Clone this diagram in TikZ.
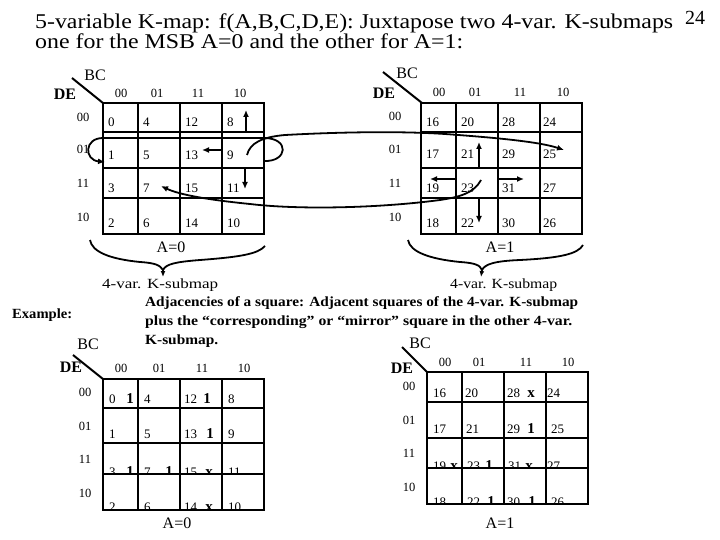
\documentclass[tikz,border=0pt]{standalone}
\usepackage{fontspec}
\usepackage{graphicx}
\setmainfont{Liberation Serif}
\usetikzlibrary{arrows.meta}
\newcommand{\fitto}[2]{\resizebox{#1}{\height}{#2}}
\begin{document}
\begin{tikzpicture}[x=1pt,y=-1pt,
  gridln/.style={line width=2.4pt},
  diag/.style={line width=2pt},
  cellnum/.style={anchor=base west,inner sep=0pt,font=\fontsize{13}{13}\selectfont},
  colhd/.style={inner sep=0pt,font=\fontsize{12.5}{12.5}\selectfont},
  rowhd/.style={inner sep=0pt,font=\fontsize{12.5}{12.5}\selectfont},
  bclab/.style={inner sep=0pt,font=\fontsize{16}{16}\selectfont},
  delab/.style={inner sep=0pt,font=\fontsize{16}{16}\selectfont\bfseries},
  bmk/.style={anchor=base,inner sep=0pt,font=\fontsize{15}{15}\selectfont\bfseries},
  alab/.style={inner sep=0pt,font=\fontsize{16}{16}\selectfont},
  arr/.style={line width=1.8pt,-{Latex[length=7pt,width=6pt]}},
  brace/.style={line width=1.8pt},
  txt/.style={anchor=base west,inner sep=0pt},
]
\useasboundingbox[fill=white] (0,0) rectangle (720,540);

% ---------- title ----------
\node[txt] (title1) at (35,29) {\fitto{638pt}{\fontsize{21}{21}\selectfont 5-variable K-map: f(A,B,C,D,E): Juxtapose two 4-var. K-submaps}};
\node[txt] (title2) at (35,49) {\fitto{428pt}{\fontsize{21}{21}\selectfont one for the MSB A=0 and the other for A=1:}};
\node[txt] (pg) at (685,25) {\fontsize{20}{20}\selectfont 24};

% ---------- top-left map (A=0) ----------
\node[bclab] (tlBC) at (95,75) {BC};
\node[delab] (tlDE) at (65,94) {DE};
\coordinate (tlD1) at (72,78); \coordinate (tlD2) at (103,103);
\draw[diag] (tlD1) -- (tlD2);
\foreach \t/\x in {00/121,01/157,11/198,10/240} \node[colhd] (tlc\t) at (\x,93) {\t};
\foreach \t/\y in {00/117,01/149,11/183,10/217} \node[rowhd] (tlr\t) at (83,\y) {\t};
\foreach \n/\x/\y in {0/108/127,4/143/127,12/185/127,8/227/127,
  1/108/160,5/143/160,13/185/160,9/227/160,
  3/108/193,7/143/193,15/185/193,11/227/193,
  2/108/228,6/143/228,14/185/228,10/227/228}
  \node[cellnum] (t\n) at (\x,\y) {\n};
\draw[gridln] (103,103) rectangle (264,234);
\foreach \x in {138,180,222} \draw[gridln] (\x,103) -- (\x,234);
\foreach \y in {132,168,198} \draw[gridln] (103,\y) -- (264,\y);

% ---------- top-right map (A=1) ----------
\node[bclab] (trBC) at (407,73) {BC};
\node[delab] (trDE) at (384,93) {DE};
\coordinate (trD1) at (383,72); \coordinate (trD2) at (422,103);
\draw[diag] (trD1) -- (trD2);
\foreach \t/\x in {00/439,01/475,11/520,10/563} \node[colhd] (trc\t) at (\x,92) {\t};
\foreach \t/\y in {00/116,01/149,11/183,10/217} \node[rowhd] (trr\t) at (395,\y) {\t};
\foreach \n/\x/\y in {16/426/127,20/461/127,28/502/127,24/543/127,
  17/426/159,21/461/159,29/502/159,25/543/159,
  19/426/193,23/461/193,31/502/193,27/543/193,
  18/426/227,22/461/227,30/502/227,26/543/227}
  \node[cellnum] (t\n) at (\x,\y) {\n};
\draw[gridln] (421,103) rectangle (582,234);
\foreach \x in {456,498,540} \draw[gridln] (\x,103) -- (\x,234);
\foreach \y in {132,168,198} \draw[gridln] (421,\y) -- (582,\y);

% ---------- adjacency arrows, left map (cell 9) ----------
\coordinate (a9u1) at (246,131); \coordinate (a9u2) at (246,110);
\draw[arr] (a9u1) -- (a9u2);
\coordinate (a9l1) at (221,150); \coordinate (a9l2) at (202,150);
\draw[arr] (a9l1) -- (a9l2);
\coordinate (a9d1) at (245,169); \coordinate (a9d2) at (245,189);
\draw[arr] (a9d1) -- (a9d2);
\coordinate (a9s) at (247,155); \coordinate (a25e) at (564,150);
\draw[arr] (a9s) .. controls (250,143) and (262,137) .. (285,135)
  .. controls (340,132) and (400,131) .. (445,134)
  .. controls (500,138) and (540,142) .. (a25e);
\coordinate (w1) at (264,161); \coordinate (w2) at (264,138);
\coordinate (w3) at (103,138); \coordinate (w4) at (105,162);
\draw[arr] (w1) .. controls (288,162) and (290,138) .. (w2) -- (w3)
  .. controls (84,138) and (84,160) .. (w4);

% ---------- adjacency arrows, right map (cell 23) ----------
\coordinate (a23u1) at (479,167); \coordinate (a23u2) at (479,142);
\draw[arr] (a23u1) -- (a23u2);
\coordinate (a23l1) at (455,179); \coordinate (a23l2) at (430,179);
\draw[arr] (a23l1) -- (a23l2);
\coordinate (a23r1) at (498,179); \coordinate (a23r2) at (524,179);
\draw[arr] (a23r1) -- (a23r2);
\coordinate (a23d1) at (479,199); \coordinate (a23d2) at (479,223);
\draw[arr] (a23d1) -- (a23d2);
\coordinate (a23s) at (481,180); \coordinate (a7e) at (161,186);
\draw[arr] (a23s) .. controls (474,193) and (460,197) .. (440,200)
  .. controls (380,208) and (300,210) .. (250,204)
  .. controls (210,200) and (180,195) .. (a7e);

% ---------- A labels and braces ----------
\node[alab] (tA0) at (171,247) {A=0};
\node[alab] (tA1) at (500,247) {A=1};
\coordinate (lb1) at (90,240); \coordinate (lbtip) at (163,270); \coordinate (lb2) at (265,246);
\draw[brace] (lb1) .. controls (92,252) and (110,259) .. (140,262)
  .. controls (155,263) and (160,265) .. (lbtip)
  .. controls (166,264) and (175,262) .. (200,260)
  .. controls (240,257) and (258,254) .. (lb2);
\coordinate (rb1) at (408,240); \coordinate (rbtip) at (482,270); \coordinate (rb2) at (583,245);
\draw[brace] (rb1) .. controls (410,252) and (430,259) .. (460,262)
  .. controls (475,263) and (480,265) .. (rbtip)
  .. controls (485,264) and (495,261) .. (520,260)
  .. controls (560,258) and (578,254) .. (rb2);
\coordinate (lbarr) at (163,277); \coordinate (rbarr) at (481,277);
\draw[line width=1.5pt,-{Latex[length=6pt,width=5pt]}] (lbtip) -- (lbarr);
\draw[line width=1.5pt,-{Latex[length=6pt,width=5pt]}] (rbtip) -- (rbarr);
\node[txt] (sub1) at (102,288) {\fitto{116pt}{\fontsize{14}{14}\selectfont 4-var. K-submap}};
\node[txt] (sub2) at (450,288) {\fitto{107pt}{\fontsize{14}{14}\selectfont 4-var. K-submap}};

% ---------- explanation ----------
\node[txt] (adj1) at (145,306) {\fitto{433pt}{\fontsize{14}{14}\selectfont\bfseries Adjacencies of a square: Adjacent squares of the 4-var. K-submap}};
\node[txt] (adj2) at (145,325) {\fitto{427pt}{\fontsize{14}{14}\selectfont\bfseries plus the “corresponding” or “mirror” square in the other 4-var.}};
\node[txt] (adj3) at (145,344) {\fitto{73pt}{\fontsize{14}{14}\selectfont\bfseries K-submap.}};
\node[txt] (example) at (12,318) {\fitto{60pt}{\fontsize{14}{14}\selectfont\bfseries Example:}};

% ---------- bottom-left map ----------
\node[bclab] (blBC) at (88,344) {BC};
\node[delab] (blDE) at (71,367) {DE};
\coordinate (blD1) at (73,355); \coordinate (blD2) at (103,379);
\draw[diag] (blD1) -- (blD2);
\foreach \t/\x in {00/121,01/159,11/202,10/244} \node[colhd] (blc\t) at (\x,368) {\t};
\foreach \t/\y in {00/392,01/426,11/459,10/493} \node[rowhd] (blr\t) at (85,\y) {\t};
\foreach \n/\x/\y in {0/109/403,4/144/403,12/184/403,8/228/403,
  1/109/438,5/144/438,13/184/438,9/228/438}
  \node[cellnum] (b\n) at (\x,\y) {\n};
\node[bmk] (blm0) at (130,403) {1};
\node[bmk] (blm12) at (207,403) {1};
\node[bmk] (blm13) at (210,438) {1};
\begin{scope}
  \clip (103,443) rectangle (264,474);
  \foreach \n/\x in {3/109,7/144,15/184,11/228} \node[cellnum] (b\n) at (\x,476) {\n};
  \node[bmk] (blm3) at (130,476) {1};
  \node[bmk] (blm7) at (169,476) {1};
  \node[bmk] (blm15) at (209,476) {x};
\end{scope}
\begin{scope}
  \clip (103,474) rectangle (264,510);
  \foreach \n/\x in {2/109,6/144,14/184,10/228} \node[cellnum] (b\n) at (\x,511) {\n};
  \node[bmk] (blm14) at (209,511) {x};
\end{scope}
\draw[gridln] (103,379) rectangle (264,510);
\foreach \x in {138,180,222} \draw[gridln] (\x,379) -- (\x,510);
\foreach \y in {408,443,474} \draw[gridln] (103,\y) -- (264,\y);
\node[alab] (bA0) at (177,523) {A=0};

% ---------- bottom-right map ----------
\node[bclab] (brBC) at (420,343) {BC};
\node[delab] (brDE) at (402,368) {DE};
\coordinate (brD1) at (402,347); \coordinate (brD2) at (427,372);
\draw[diag] (brD1) -- (brD2);
\foreach \t/\x in {00/445,01/479,11/526,10/568} \node[colhd] (brc\t) at (\x,362) {\t};
\foreach \t/\y in {00/386,01/420,11/453,10/487} \node[rowhd] (brr\t) at (409,\y) {\t};
\foreach \n/\x/\y in {16/433/397,20/465/397,28/507/397,24/547/397,
  17/433/433,21/466/433,29/507/433,25/551/433}
  \node[cellnum] (b\n) at (\x,\y) {\n};
\node[bmk] (brm28) at (531,397) {x};
\node[bmk] (brm29) at (531,433) {1};
\begin{scope}
  \clip (427,438) rectangle (588,468);
  \foreach \n/\x in {19/433,23/467,31/508,27/547} \node[cellnum] (b\n) at (\x,470) {\n};
  \node[bmk] (brm19) at (454,470) {x};
  \node[bmk] (brm23) at (489,470) {1};
  \node[bmk] (brm31) at (529,470) {x};
\end{scope}
\begin{scope}
  \clip (427,468) rectangle (588,504);
  \foreach \n/\x in {18/433,22/467,30/507,26/551} \node[cellnum] (b\n) at (\x,506) {\n};
  \node[bmk] (brm22) at (491,506) {1};
  \node[bmk] (brm30) at (532,506) {1};
\end{scope}
\draw[gridln] (427,372) rectangle (588,504);
\foreach \x in {462,504,546} \draw[gridln] (\x,372) -- (\x,504);
\foreach \y in {402,438,468} \draw[gridln] (427,\y) -- (588,\y);
\node[alab] (bA1) at (500,523) {A=1};
\end{tikzpicture}
\end{document}
